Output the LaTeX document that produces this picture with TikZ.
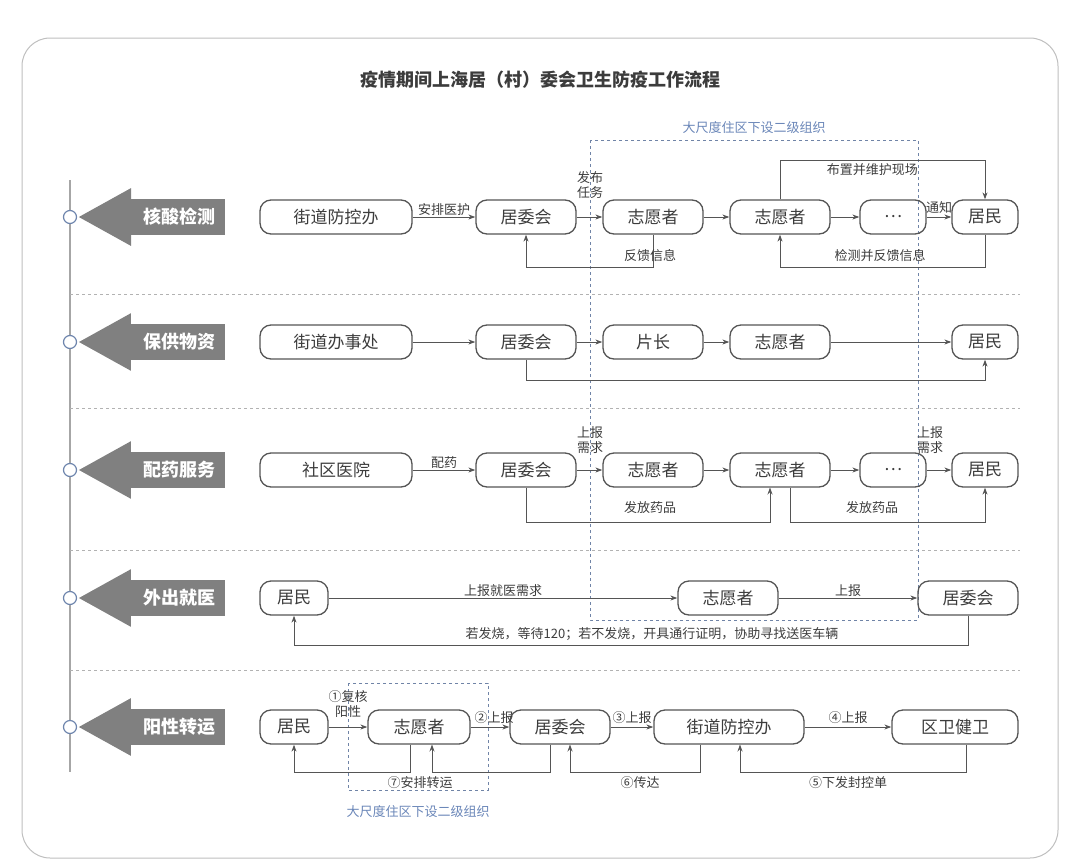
\documentclass[tikz,border=0pt]{standalone}
\usepackage{fontspec}
\setmainfont{Noto Sans CJK SC}
\usetikzlibrary{arrows.meta,shapes.arrows}
\definecolor{ln}{HTML}{555555}
\definecolor{tx}{HTML}{3C3C3C}
\definecolor{bl}{HTML}{6A86B8}
\definecolor{ga}{HTML}{808080}
\tikzset{
 bx/.style={draw=ln,line width=1.3pt,rounded corners=11pt,minimum height=34pt,text=tx,font=\fontsize{17}{19}\selectfont,inner sep=2pt},
 lb/.style={text=tx,font=\fontsize{13}{15}\selectfont,inner sep=1pt,align=center},
 ar/.style={draw=ln,line width=0.9pt,-{Stealth[length=7pt,width=5pt]}},
 sep/.style={draw=gray!60,dashed,line width=0.8pt},
 tag/.style={single arrow,fill=ga,draw=none,shape border rotate=180,minimum height=146pt,single arrow head extend=11pt,single arrow tip angle=58,text=white,font=\fontsize{18}{20}\selectfont\bfseries,inner xsep=2pt,inner ysep=9pt},
 cir/.style={circle,draw=bl!80!gray,line width=1.2pt,fill=white,minimum size=13pt,inner sep=0pt},
 bb/.style={draw=bl!70!gray,dashed,line width=0.8pt}
}
\begin{document}
\begin{tikzpicture}[x=1pt,y=-1pt]
\useasboundingbox (0,0) rectangle (1080,868);
\draw[gray!50,line width=1pt,rounded corners=28pt] (22,38) rectangle (1058,858);
\node[text=tx,font=\fontsize{18}{20}\selectfont\bfseries] (title) at (540,80) {疫情期间上海居（村）委会卫生防疫工作流程};
\draw[gray!70,line width=1.2pt] (70,180) -- (70,772);
\foreach \y in {294,408,550,670} \draw[sep] (70,\y) -- (1020,\y);
\foreach \y/\t/\n in {217/核酸检测/t1,342/保供物资/t2,470/配药服务/t3,598/外出就医/t4,727/阳性转运/t5}{
 \node[cir] (c\n) at (70,\y) {};
 \node[tag] (\n) at (168,\y) {\hspace{22pt}\t};
}
% blue boxes
\draw[bb] (590,140) rectangle (918,620);
\node[lb,text=bl] (bl1) at (754,128) {大尺度住区下设二级组织};
\draw[bb] (348,683) rectangle (488,790);
\node[lb,text=bl] (bl2) at (418,812) {大尺度住区下设二级组织};
% row 1
\node[bx,minimum width=152pt] (a1) at (336,217) {街道防控办};
\node[bx,minimum width=100pt] (b1) at (526,217) {居委会};
\node[bx,minimum width=100pt] (c1) at (653,217) {志愿者};
\node[bx,minimum width=100pt] (d1) at (780,217) {志愿者};
\node[bx,minimum width=66pt] (e1) at (893,217) {…};
\node[bx,minimum width=66pt] (f1) at (985,217) {居民};
\draw[ar] (a1) -- node[lb,above]{安排医护} (b1);
\draw[ar] (b1) -- (c1);
\node[lb] (l1) at (590,185) {发布\\任务};
\draw[ar] (c1) -- (d1);
\draw[ar] (d1) -- (e1);
\draw[ar] (e1) -- node[lb,above,yshift=2pt]{通知} (f1);
\draw[ar] (d1.north) -- (780,160) -- node[lb,below,pos=0.45,yshift=-2pt]{布置并维护现场} (985,160) -- (f1.north);
\draw[ar] (c1.south) -- (653,267) -- (526,267) -- (b1.south);
\node[lb] (l2) at (650,256) {反馈信息};
\draw[ar] (f1.south) -- (985,267) -- (780,267) -- (d1.south);
\node[lb] (l3) at (880,256) {检测并反馈信息};
% row 2
\node[bx,minimum width=152pt] (a2) at (336,342) {街道办事处};
\node[bx,minimum width=100pt] (b2) at (526,342) {居委会};
\node[bx,minimum width=100pt] (c2) at (653,342) {片长};
\node[bx,minimum width=100pt] (d2) at (780,342) {志愿者};
\node[bx,minimum width=66pt] (f2) at (985,342) {居民};
\draw[ar] (a2) -- (b2);
\draw[ar] (b2) -- (c2);
\draw[ar] (c2) -- (d2);
\draw[ar] (d2) -- (f2);
\draw[ar] (b2.south) -- (526,380) -- (985,380) -- (f2.south);
% row 3
\node[bx,minimum width=152pt] (a3) at (336,470) {社区医院};
\node[bx,minimum width=100pt] (b3) at (526,470) {居委会};
\node[bx,minimum width=100pt] (c3) at (653,470) {志愿者};
\node[bx,minimum width=100pt] (d3) at (780,470) {志愿者};
\node[bx,minimum width=66pt] (e3) at (893,470) {…};
\node[bx,minimum width=66pt] (f3) at (985,470) {居民};
\draw[ar] (a3) -- node[lb,above]{配药} (b3);
\draw[ar] (b3) -- (c3);
\node[lb] (l4) at (590,440) {上报\\需求};
\draw[ar] (c3) -- (d3);
\draw[ar] (d3) -- (e3);
\draw[ar] (e3) -- (f3);
\node[lb] (l5) at (930,440) {上报\\需求};
\draw[ar] (b3.south) -- (526,522) -- (770,522) -- (770,487.5);
\node[lb] (l6) at (650,508) {发放药品};
\draw[ar] (790,487.5) -- (790,522) -- (985,522) -- (f3.south);
\node[lb] (l7) at (872,508) {发放药品};
% row 4
\node[bx,minimum width=68pt] (a4) at (294,598) {居民};
\node[bx,minimum width=100pt] (b4) at (728,598) {志愿者};
\node[bx,minimum width=100pt] (c4) at (968,598) {居委会};
\draw[ar] (a4) -- node[lb,above,pos=0.5]{上报就医需求} (b4);
\draw[ar] (b4) -- node[lb,above]{上报} (c4);
\draw[ar] (c4.south) -- (968,645) -- (294,645) -- (a4.south);
\node[lb] (l8) at (652,634) {若发烧，等待120；若不发烧，开具通行证明，协助寻找送医车辆};
% row 5
\node[bx,minimum width=68pt] (a5) at (294,727) {居民};
\node[bx,minimum width=102pt] (b5) at (419,727) {志愿者};
\node[bx,minimum width=100pt] (c5) at (560,727) {居委会};
\node[bx,minimum width=150pt] (d5) at (729,727) {街道防控办};
\node[bx,minimum width=126pt] (e5) at (955,727) {区卫健卫};
\draw[ar] (a5) -- (b5);
\node[lb] (l9) at (348,704) {①复核\\阳性};
\draw[ar] (b5) -- node[lb,above,xshift=4pt,yshift=2pt]{②上报} (c5);
\draw[ar] (c5) -- node[lb,above,yshift=2pt]{③上报} (d5);
\draw[ar] (d5) -- node[lb,above,yshift=2pt]{④上报} (e5);
\draw[ar] (410,744.5) -- (410,772) -- (294,772) -- (a5.south);
\draw[ar] (550,744.5) -- (550,772) -- (432,772) -- (432,744.5);
\node[lb] (l10) at (420,783) {⑦安排转运};
\draw[ar] (700,744.5) -- (700,772) -- (570,772) -- (570,744.5);
\node[lb] (l11) at (640,783) {⑥传达};
\draw[ar] (966,744.5) -- (966,772) -- (740,772) -- (740,744.5);
\node[lb] (l12) at (848,783) {⑤下发封控单};
\end{tikzpicture}
\end{document}
